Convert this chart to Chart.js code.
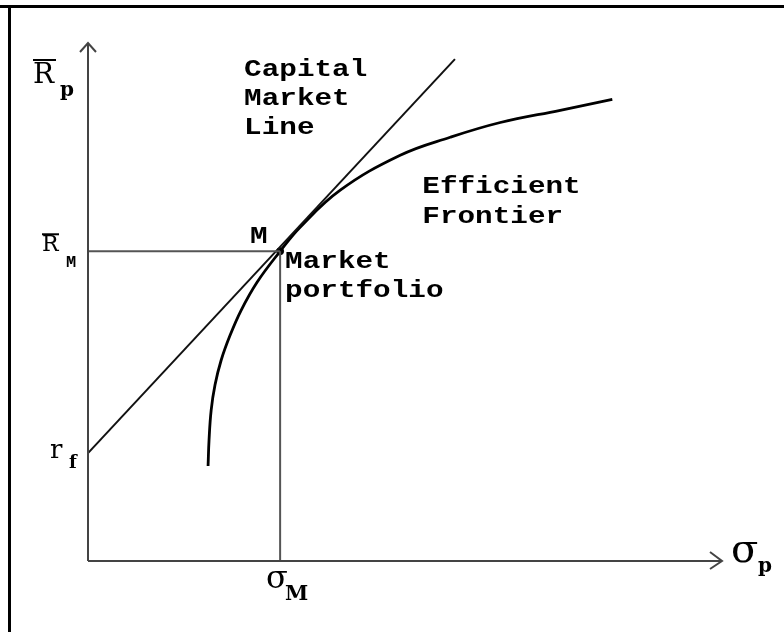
<!DOCTYPE html>
<html>
<head>
<meta charset="utf-8">
<script src="https://cdn.jsdelivr.net/npm/chart.js@4.4.1/dist/chart.umd.min.js"></script>
<style>
html, body { margin: 0; padding: 0; background: #fff; }
#wrap { width: 784px; height: 632px; }
</style>
</head>
<body>
<div id="wrap"><canvas id="cml" width="784" height="632"></canvas></div>
<script>
// datos del grafico (sigma en x, rendimiento en y)
const rf = 3
const sigmaM = 10
const retM = 8.61
const xMax = 33
const yMax = 14.4

// capital market line
const cml_x = [0, 19.1]
const cml_y = [3, 13.95]

// frontera eficiente
const frontera_x = [6.25, 6.30, 6.41, 6.61, 6.93, 7.40, 7.97, 8.80, 10.00, 11.04, 13.13, 16.25, 18.85, 21.46, 24.58, 27.29]
const frontera_y = [2.64, 3.36, 4.19, 4.89, 5.58, 6.28, 6.97, 7.75, 8.61, 9.28, 10.31, 11.28, 11.78, 12.19, 12.53, 12.83]

// textos
const etiquetas_cml = ['Capital', 'Market', 'Line']
const etiquetas_frontera = ['Efficient', 'Frontier']
const etiquetas_mercado = ['Market', 'portfolio']

const puntos = (xs, ys) => xs.map((x, i) => ({ x: x, y: ys[i] }))

function escribir(ctx, txt, x, y, font, sx) {
    ctx.save()
    ctx.font = font
    ctx.translate(x, y)
    ctx.scale(sx || 1, 1)
    ctx.fillText(txt, 0, 0)
    ctx.restore()
}

const MONO = 'bold 23px "Liberation Mono"'
const SX = 1.275

const dibujo = {
    id: 'dibujo',
    beforeDraw(chart) {
        const ctx = chart.ctx
        ctx.save()
        ctx.fillStyle = '#fff'
        ctx.fillRect(0, 0, chart.width, chart.height)
        // marco
        ctx.fillStyle = '#000'
        ctx.fillRect(0, 5, chart.width, 3)
        ctx.fillRect(8, 5, 3, chart.height - 5)
        ctx.restore()
    },
    afterDatasetsDraw(chart) {
        const ctx = chart.ctx
        const sx = chart.scales.x
        const sy = chart.scales.y
        const x0 = sx.getPixelForValue(0)
        const y0 = sy.getPixelForValue(0)
        ctx.save()
        // flechas de los ejes
        ctx.strokeStyle = '#444'
        ctx.lineWidth = 2
        const ty = sy.getPixelForValue(yMax)
        ctx.beginPath()
        ctx.moveTo(x0 - 8, ty + 9); ctx.lineTo(x0, ty); ctx.lineTo(x0 + 8, ty + 9)
        ctx.stroke()
        const tx = sx.getPixelForValue(xMax)
        ctx.beginPath()
        ctx.moveTo(tx - 12, y0 - 9); ctx.lineTo(tx, y0); ctx.lineTo(tx - 12, y0 + 8)
        ctx.stroke()

        ctx.fillStyle = '#000'
        ctx.textBaseline = 'alphabetic'

        // etiquetas en fuente monoespaciada
        const cx = sx.getPixelForValue(8.125)
        etiquetas_cml.forEach((t, i) => escribir(ctx, t, cx, sy.getPixelForValue(13.47) + i * 29, MONO, SX))
        const fx = sx.getPixelForValue(17.4)
        etiquetas_frontera.forEach((t, i) => escribir(ctx, t, fx, sy.getPixelForValue(10.22) + i * 30, MONO, SX))
        const mx = sx.getPixelForValue(sigmaM)
        const my = sy.getPixelForValue(retM)
        escribir(ctx, 'M', mx - 30, my - 8, MONO, SX)
        etiquetas_mercado.forEach((t, i) => escribir(ctx, t, mx + 5, my + 17 + i * 29, MONO, SX))

        // etiquetas de los ejes
        const serif = '"DejaVu Serif"'
        ctx.lineWidth = 2
        ctx.strokeStyle = '#000'
        // R_p
        escribir(ctx, 'R', x0 - 55, ty + 40, '28px ' + serif)
        ctx.beginPath(); ctx.moveTo(x0 - 55, ty + 17); ctx.lineTo(x0 - 32, ty + 17); ctx.stroke()
        escribir(ctx, 'p', x0 - 28, ty + 53, 'bold 20px ' + serif)
        // R_M
        escribir(ctx, 'R', x0 - 46, my, '22px ' + serif)
        ctx.beginPath(); ctx.moveTo(x0 - 46, my - 17); ctx.lineTo(x0 - 29, my - 17); ctx.stroke()
        escribir(ctx, 'M', x0 - 22, my + 16, 'bold 17px "Liberation Mono"')
        // r_f
        const ry = sy.getPixelForValue(rf)
        escribir(ctx, 'r', x0 - 38, ry + 5, '26px ' + serif)
        escribir(ctx, 'f', x0 - 19, ry + 15, 'bold 18px ' + serif)
        // sigma_M
        escribir(ctx, 'σ', mx - 14, y0 + 27, '32px ' + serif)
        escribir(ctx, 'M', mx + 5, y0 + 39, 'bold 21px ' + serif)
        // sigma_p
        escribir(ctx, 'σ', tx + 9, y0 + 1, '40px ' + serif)
        escribir(ctx, 'p', tx + 36, y0 + 11, 'bold 20px ' + serif)
        ctx.restore()
    }
}

const linea = (data, color, ancho, extra) => Object.assign({
    data: data,
    showLine: true,
    borderColor: color,
    borderWidth: ancho,
    pointRadius: 0,
    fill: false,
    clip: false
}, extra || {})

new Chart(document.getElementById('cml'), {
    type: 'scatter',
    data: {
        datasets: [
            linea([{ x: 0, y: 0 }, { x: 0, y: yMax }], '#444', 2),
            linea([{ x: 0, y: 0 }, { x: xMax, y: 0 }], '#444', 2),
            linea([{ x: 0, y: retM }, { x: sigmaM, y: retM }], '#555', 2),
            linea([{ x: sigmaM, y: 0 }, { x: sigmaM, y: retM }], '#555', 2),
            linea(puntos(cml_x, cml_y), '#111', 2),
            linea(puntos(frontera_x, frontera_y), '#000', 2.8, { tension: 0.4 }),
            {
                data: [{ x: sigmaM, y: retM }],
                showLine: false,
                pointRadius: 3.5,
                backgroundColor: '#000',
                borderColor: '#000',
                clip: false
            }
        ]
    },
    options: {
        responsive: false,
        devicePixelRatio: 1,
        animation: false,
        events: [],
        layout: {
            padding: { left: 88, right: 62, top: 43, bottom: 71 }
        },
        scales: {
            x: { type: 'linear', min: 0, max: xMax, display: false },
            y: { type: 'linear', min: 0, max: yMax, display: false }
        },
        plugins: {
            legend: { display: false },
            tooltip: { enabled: false }
        }
    },
    plugins: [dibujo]
})
</script>
</body>
</html>
